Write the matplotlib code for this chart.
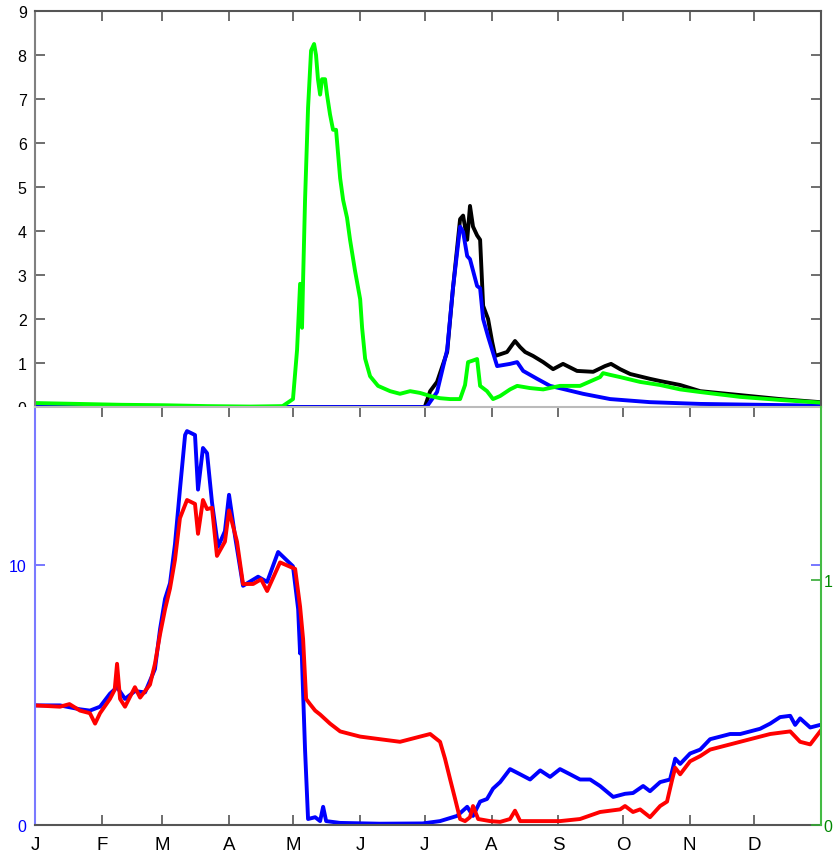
import matplotlib
matplotlib.use("Agg")
import matplotlib.pyplot as plt
from matplotlib.transforms import Bbox, TransformedBbox

plt.rcParams['font.family'] = ['Liberation Sans', 'DejaVu Sans']

# Month starts (day of year) and their one-letter labels
month_days = [0, 31, 59, 90, 120, 151, 181, 212, 243, 273, 304, 334]
month_labels = ['J', 'F', 'M', 'A', 'M', 'J', 'J', 'A', 'S', 'O', 'N', 'D']

# ---- Upper panel series (day of year, value) ----
green_day = [0, 20, 40, 60, 80, 100, 115, 119.8, 121.7, 123.1, 124.0, 124.5, 125.4,
             126.8, 128.2, 129.6, 130.5, 131.4, 132.4, 133.3, 134.7, 135.6, 137.0,
             138.4, 139.8, 141.7, 143.1, 144.9, 146.3, 148.6, 151.0, 151.9, 153.3,
             155.6, 159.3, 164.9, 169.5, 174.2, 178.8, 183.5, 188.1, 192.8, 197.4,
             199.7, 201.1, 203.0, 205.3, 206.7, 209.9, 212.7, 216.0, 220.6, 223.9,
             229.9, 236.0, 243.8, 253.1, 262.4, 263.8, 267.1, 271.7, 281.0, 290.3,
             299.6, 308.9, 327.5, 346.0, 364.6]
green_val = [0.09, 0.07, 0.05, 0.04, 0.02, 0.01, 0.02, 0.18, 1.3, 2.8, 1.8, 2.9, 4.7,
             6.8, 8.1, 8.25, 8.0, 7.45, 7.1, 7.45, 7.45, 7.1, 6.65,
             6.3, 6.3, 5.2, 4.7, 4.3, 3.8, 3.1, 2.45, 1.8, 1.1,
             0.7, 0.48, 0.36, 0.3, 0.36, 0.32, 0.25, 0.2, 0.18, 0.18,
             0.5, 1.02, 1.05, 1.09, 0.48, 0.36, 0.18, 0.25, 0.4, 0.48,
             0.43, 0.4, 0.48, 0.48, 0.68, 0.77, 0.73, 0.68, 0.57, 0.5,
             0.4, 0.34, 0.23, 0.16, 0.1]

black_day = [0, 181.0, 183.5, 186.7, 191.4, 194.1,
             197.4, 198.8, 200.7, 202.0, 203.4, 205.3, 206.7, 208.1, 210.4, 212.3,
             213.7, 219.2, 222.9, 225.3, 227.6, 231.3, 236.0, 240.6, 245.2, 251.7,
             259.2, 264.7, 267.5, 271.7, 276.4, 285.6, 290.3, 299.6, 308.9, 327.5,
             346.0, 364.6]
black_val = [0.0, 0.0, 0.36, 0.57, 1.25, 2.7,
             4.27, 4.35, 3.8, 4.57, 4.1, 3.9, 3.8, 2.3, 2.0, 1.48,
             1.16, 1.25, 1.5, 1.36, 1.25, 1.16, 1.02, 0.86, 0.98, 0.82,
             0.8, 0.93, 0.98, 0.86, 0.75, 0.64, 0.59, 0.5, 0.36, 0.27,
             0.18, 0.11]

blue_top_day = [0, 181.1, 182.1, 186.7, 191.4, 194.1, 197.4, 198.8, 200.7, 202.0,
                205.3, 206.7, 208.1, 210.4, 214.6, 220.6, 223.9, 226.7, 233.2, 239.2,
                245.2, 254.5, 267.1, 285.6, 308.9, 364.6]
blue_top_val = [0.0, 0.0, 0.02, 0.34, 1.3, 2.7, 4.1, 3.98, 3.43, 3.36,
                2.75, 2.7, 2.0, 1.6, 0.93, 0.98, 1.02, 0.82, 0.64, 0.48,
                0.41, 0.3, 0.18, 0.11, 0.07, 0.03]

# ---- Lower panel series ----
blue_day = [0, 11.6, 20.9, 25.5, 30.2, 34.8, 38.1, 41.8, 46.4, 51.1, 55.7, 58.1,
            60.4, 62.7, 65.0, 67.3, 69.7, 70.6, 74.3, 75.7, 78.0, 79.9, 82.2, 85.0,
            88.2, 90.1, 92.9, 96.6, 103.6, 107.8, 112.9, 119.8, 122.2, 123.1, 123.5,
            125.4, 126.8, 130.1, 132.4, 133.8, 135.2, 141.7, 160, 180, 188.1, 196.0,
            200.7, 203.4, 206.7, 209.9, 212.7, 216.0, 220.6, 225.3, 229.9, 234.6,
            239.2, 243.8, 248.5, 253.1, 257.8, 262.4, 268.5, 274.0, 277.7, 282.4,
            285.6, 290.3, 294.9, 297.3, 299.6, 304.2, 308.9, 313.5, 318.2, 322.8,
            327.5, 332.1, 336.7, 341.4, 346.0, 350.7, 353.0, 355.3, 360.0, 364.6]
blue_val = [4.6, 4.6, 4.45, 4.4, 4.55, 5.05, 5.3, 4.85, 5.15, 5.1, 6.0, 7.55,
            8.7, 9.3, 10.8, 12.9, 15.0, 15.15, 15.0, 12.9, 14.5, 14.3, 12.4, 10.7,
            11.3, 12.7, 11.1, 9.2, 9.55, 9.35, 10.5, 9.95, 8.3, 6.6, 7.5,
            2.9, 0.23, 0.3, 0.15, 0.7, 0.15, 0.08, 0.05, 0.06, 0.15, 0.35,
            0.7, 0.35, 0.9, 1.0, 1.4, 1.65, 2.15, 1.95, 1.75, 2.1,
            1.85, 2.15, 1.95, 1.75, 1.75, 1.5, 1.08, 1.2, 1.23, 1.5,
            1.3, 1.65, 1.75, 2.55, 2.35, 2.75, 2.9, 3.3, 3.4, 3.5,
            3.5, 3.6, 3.7, 3.9, 4.15, 4.2, 3.85, 4.1, 3.75, 3.85]

red_day = [0, 11.6, 16, 20.9, 25.5, 27.9, 30.2, 34.8, 37, 38.1, 39.5, 41.8, 46.4,
           48.8, 53.4, 55.7, 58.1, 60.4, 62.7, 65.0, 67.3, 70.6, 74.3, 75.7, 78.0,
           79.9, 82.2, 84.5, 88.2, 90.1, 93.8, 96.6, 101.3, 105, 107.8, 113.8, 120.8,
           123.1, 124.5, 125.9, 127.7, 130.1, 132.4, 137.0, 141.7, 146.3, 151.0,
           160.2, 169.5, 178.8, 183.5, 188.1, 190.4, 192.8, 195.1, 197.4, 199.7,
           202.0, 203.4, 205.8, 211.3, 216.0, 220.6, 222.9, 225.3, 234.6, 243.8,
           253.1, 262.4, 271.7, 274.0, 277.7, 281.0, 285.6, 290.3, 293.5, 294.9,
           295.9, 297.3, 299.6, 304.2, 308.9, 313.5, 322.8, 332.1, 341.4, 350.7,
           355.3, 360.0, 364.6]
red_val = [4.6, 4.55, 4.65, 4.4, 4.3, 3.9, 4.3, 4.85, 5.2, 6.2, 4.85, 4.55, 5.3,
           4.9, 5.4, 6.2, 7.35, 8.3, 9.1, 10.2, 11.8, 12.5, 12.35, 11.2, 12.5,
           12.15, 12.2, 10.35, 10.9, 12.1, 10.9, 9.27, 9.27, 9.45, 9.0, 10.1, 9.85,
           8.4, 7.15, 4.85, 4.65, 4.4, 4.25, 3.9, 3.6, 3.5, 3.4,
           3.3, 3.2, 3.4, 3.5, 3.2, 2.55, 1.75, 1.0, 0.23, 0.15,
           0.3, 0.73, 0.23, 0.15, 0.12, 0.23, 0.55, 0.15, 0.15, 0.15,
           0.23, 0.5, 0.6, 0.73, 0.5, 0.6, 0.3, 0.73, 0.9, 1.4,
           1.75, 2.2, 1.95, 2.45, 2.65, 2.9, 3.1, 3.3, 3.5, 3.6,
           3.2, 3.1, 3.6]

W, H = 833, 862
fig = plt.figure(figsize=(W / 100, H / 100), dpi=100)

left = 35 / W
width = 786 / W
split = 1 - 408 / H
ax1 = fig.add_axes([left, split, width, 396 / H])
ax2 = fig.add_axes([left, 36 / H, width, 418 / H])
ax3 = ax2.twinx()

lw = 2.8
ylab = 11.5

# Upper panel
ax1.plot(black_day, black_val, color='black', lw=lw, solid_joinstyle='round')
ax1.plot(blue_top_day, blue_top_val, color='#0000ff', lw=lw, solid_joinstyle='round')
ax1.plot(green_day, green_val, color='#00ff00', lw=lw, solid_joinstyle='round')
ax1.set_xlim(0, 365)
ax1.set_ylim(0, 9)
ax1.set_yticks(range(10))
ax1.set_xticks(month_days)
ax1.set_xticklabels([])
ax1.tick_params(axis='x', direction='in', top=True, bottom=False, length=7,
                width=1.2, colors='#555555')
ax1.tick_params(axis='y', direction='in', left=True, right=True, length=7,
                width=1.2, color='#555555', labelcolor='black', labelsize=ylab, pad=6)
ax1.spines['left'].set_color('#808080')
ax1.spines['top'].set_color('#555555')
ax1.spines['right'].set_color('#555555')
ax1.spines['bottom'].set_visible(False)
for s in ax1.spines.values():
    s.set_linewidth(1.5)

# the lowest label of the upper panel is cut off where the lower panel begins
upper_region = TransformedBbox(Bbox([[0, split], [1, 1]]), fig.transFigure)
for t in ax1.yaxis.get_majorticklabels():
    t.set_clip_box(upper_region)
    t.set_clip_on(True)

# Lower panel
ax2.plot(blue_day, blue_val, color='#0000ff', lw=lw, solid_joinstyle='round')
ax2.plot(red_day, red_val, color='#ff0000', lw=lw, solid_joinstyle='round')
ax2.set_xlim(0, 365)
ax2.set_ylim(0, 418 / 26)
ax2.set_yticks([0, 10])
ax2.set_xticks(month_days)
ax2.set_xticklabels(month_labels)
ax2.tick_params(axis='x', direction='in', top=True, bottom=True, length=7,
                width=1.2, colors='#555555', labelcolor='black', labelsize=13.5, pad=8)
ax2.tick_params(axis='y', direction='in', left=True, right=True, length=7,
                width=1.2, colors='#6060ff', labelcolor='#0000ff', labelsize=ylab, pad=6)
ax2.spines['left'].set_color('#7a7aff')
ax2.spines['top'].set_color('#bbbbbb')
ax2.spines['bottom'].set_color('#555555')
ax2.spines['right'].set_visible(False)
for s in ax2.spines.values():
    s.set_linewidth(1.5)

ax3.set_ylim(0, 418 / 245)
ax3.set_yticks([0, 1])
ax3.tick_params(axis='y', direction='in', length=7, width=1.2, colors='#33aa33',
                labelcolor='#008800', labelsize=ylab, pad=2)
for name, s in ax3.spines.items():
    s.set_visible(name == 'right')
ax3.spines['right'].set_color('#44bb44')
ax3.spines['right'].set_linewidth(1.5)

fig.savefig('out.png', dpi=100)
